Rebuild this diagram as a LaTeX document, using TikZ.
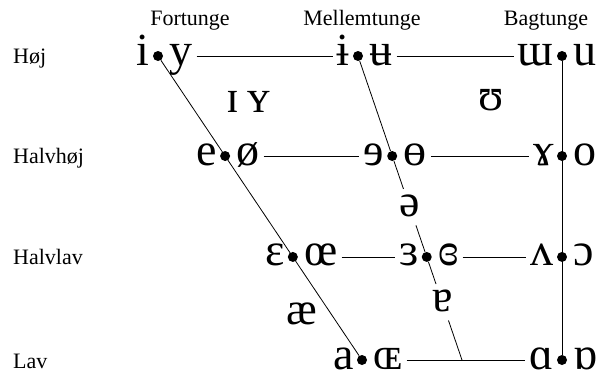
\documentclass[tikz,border=0pt]{standalone}
\usepackage{fontspec}
\setmainfont{Liberation Serif}
\usetikzlibrary{positioning, calc}
\tikzset{
	prik/.style={circle, fill=black, inner sep=0pt, minimum size=10pt},
	vokal/.style={font=\fontsize{46}{46}\selectfont, inner xsep=4pt, inner ysep=0pt,
		text height=18pt, text depth=0pt},
	midvokal/.style={vokal, inner ysep=9pt},
	etiket/.style={font=\fontsize{22}{26}\selectfont, anchor=base, inner sep=0pt},
	raekke/.style={etiket, anchor=base west},
	linje/.style={line width=0.8pt},
}

\begin{document}
\begin{tikzpicture}[x=1pt, y=-1pt]
	\useasboundingbox (0,0) rectangle (602,372);
	% kolonner og rækker
	\node[etiket] (fortunge) at (190,25) {Fortunge};
	\node[etiket] (mellemtunge) at (362,25) {Mellemtunge};
	\node[etiket] (bagtunge) at (546,25) {Bagtunge};
	\node[raekke] (hoej) at (13,63) {Høj};
	\node[raekke] (halvhoej) at (13,163) {Halvhøj};
	\node[raekke] (halvlav) at (13,264) {Halvlav};
	\node[raekke] (lav) at (13,368) {Lav};
	% prikker
	\node[prik] (f1) at (158,56) {};
	\node[prik] (f4) at (362,360) {};
	\node[prik] (f2) at ($(f1)!0.329!(f4)$) {};
	\node[prik] (f3) at ($(f1)!0.661!(f4)$) {};
	\node[prik] (c1) at (358,56) {};
	\coordinate (c4) at (462,360);
	\node[prik] (c2) at ($(c1)!0.329!(c4)$) {};
	\node[prik] (c3) at ($(c1)!0.661!(c4)$) {};
	\node[prik] (b1) at (562,56) {};
	\node[prik] (b4) at (562,360) {};
	\node[prik] (b2) at ($(b1)!0.329!(b4)$) {};
	\node[prik] (b3) at ($(b1)!0.661!(b4)$) {};
	% vokaler
	\node[vokal, left=-1pt of f1] (i) {i};
	\node[vokal, right=2pt of f1] (y) {y};
	\node[vokal, left=-1pt of c1] (ibar) {ɨ};
	\node[vokal, right=2pt of c1] (ubar) {ʉ};
	\node[vokal, left=-1pt of b1] (turnm) {ɯ};
	\node[vokal, right=2pt of b1] (u) {u};
	\node[vokal, left=-1pt of f2] (e) {e};
	\node[vokal, right=2pt of f2] (oslash) {ø};
	\node[vokal, left=-1pt of c2] (reve) {ɘ};
	\node[vokal, right=2pt of c2] (obar) {ɵ};
	\node[vokal, left=-1pt of b2] (ramshorn) {ɤ};
	\node[vokal, right=2pt of b2] (o) {o};
	\node[vokal, left=-1pt of f3] (eps) {ɛ};
	\node[vokal, right=2pt of f3] (oelig) {œ};
	\node[vokal, left=-1pt of c3] (reveps) {ɜ};
	\node[vokal, right=2pt of c3] (closedeps) {ɞ};
	\node[vokal, left=-1pt of b3] (turnv) {ʌ};
	\node[vokal, right=2pt of b3] (openo) {ɔ};
	\node[vokal, left=-1pt of f4] (a) {a};
	\node[vokal, right=2pt of f4] (smoe) {ɶ};
	\node[vokal, left=-1pt of b4] (alpha) {ɑ};
	\node[vokal, right=2pt of b4] (turnalpha) {ɒ};
	\node[vokal] (smi) at (233,103) {ɪ};
	\node[vokal] (smy) at (259,103) {ʏ};
	\node[vokal] (upsilon) at (491,101) {ʊ};
	\node[vokal] (ash) at (302,315) {æ};
	\node[midvokal] (schwa) at ($(c1)!0.497!(c4)$) {ə};
	\node[midvokal] (turna) at ($(c1)!0.81!(c4)$) {ɐ};
	% linjer
	\draw[linje] (f1) -- (f4);
	\draw[linje] (c1) -- (c2) -- (schwa) -- (c3) -- (turna) -- (c4);
	\draw[linje] (b1) -- (b4);
	\draw[linje] (y) -- (ibar);
	\draw[linje] (ubar) -- (turnm);
	\draw[linje] (oslash) -- (reve);
	\draw[linje] (obar) -- (ramshorn);
	\draw[linje] (oelig) -- (reveps);
	\draw[linje] (closedeps) -- (turnv);
	\draw[linje] (smoe) -- (alpha);
\end{tikzpicture}
\end{document}
